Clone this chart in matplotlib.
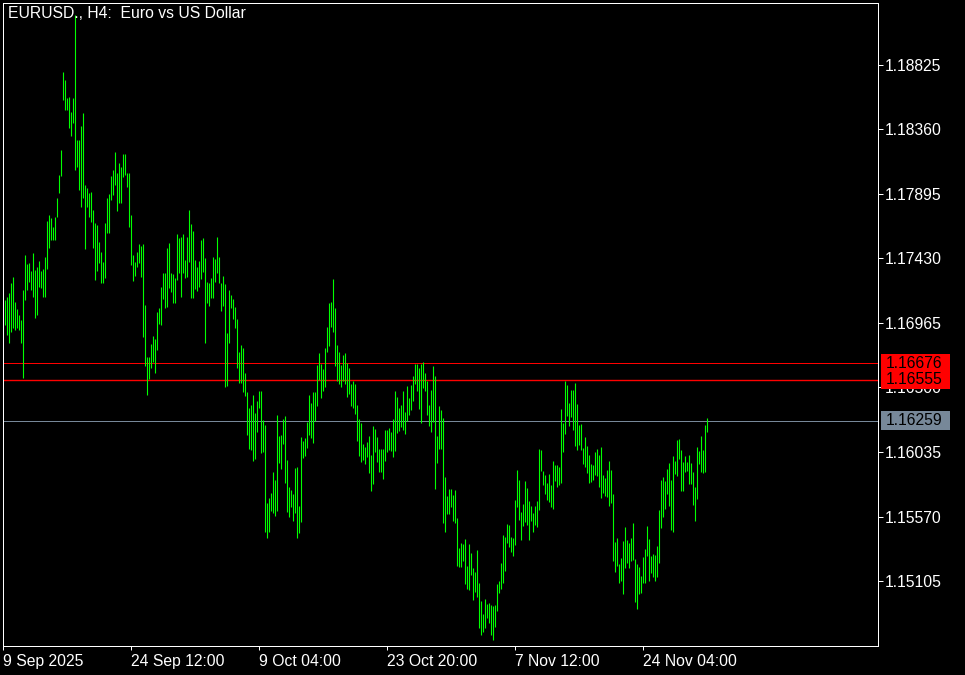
import matplotlib
matplotlib.use("Agg")
import matplotlib.pyplot as plt
import matplotlib.transforms as mtrans
from matplotlib.patches import Rectangle
import numpy as np

# H4 bars (high / low per bar)
highs = [
    1.17130, 1.17154, 1.17178, 1.17250, 1.17298, 1.17118, 1.17063, 1.17022, 1.16986, 1.17202,
    1.17454, 1.17389, 1.17394, 1.17341, 1.17466, 1.17346, 1.17370, 1.17413, 1.17341, 1.17351,
    1.17437, 1.17701, 1.17742, 1.17718, 1.17658, 1.17725, 1.17862, 1.18030, 1.18210, 1.18774,
    1.18714, 1.18582, 1.18589, 1.18486, 1.18582, 1.19182, 1.18282, 1.18282, 1.18383, 1.18474,
    1.17958, 1.17934, 1.17898, 1.17910, 1.17778, 1.17682, 1.17670, 1.17550, 1.17478, 1.17406,
    1.17682, 1.17862, 1.17893, 1.18023, 1.18066, 1.18193, 1.18042, 1.18114, 1.18090, 1.18181,
    1.18181, 1.18042, 1.18047, 1.17742, 1.17454, 1.17406, 1.17478, 1.17533, 1.17519, 1.17533,
    1.17094, 1.16722, 1.16717, 1.16813, 1.16871, 1.16847, 1.17046, 1.17070, 1.17226, 1.17327,
    1.17327, 1.17507, 1.17543, 1.17327, 1.17317, 1.17286, 1.17603, 1.17579, 1.17586, 1.17605,
    1.17418, 1.17586, 1.17778, 1.17677, 1.17627, 1.17418, 1.17370, 1.17411, 1.17562, 1.17579,
    1.17430, 1.17262, 1.17250, 1.17286, 1.17437, 1.17423, 1.17581, 1.17437, 1.17255, 1.17303,
    1.17245, 1.16890, 1.17202, 1.17166, 1.17137, 1.17082, 1.16993, 1.16753, 1.16806, 1.16787,
    1.16602, 1.16465, 1.16350, 1.16374, 1.16446, 1.16314, 1.16403, 1.16475, 1.16475, 1.16266,
    1.16230, 1.15666, 1.15702, 1.15743, 1.15894, 1.15834, 1.16302, 1.16151, 1.16158, 1.16273,
    1.16295, 1.15978, 1.15781, 1.15762, 1.15733, 1.15923, 1.15930, 1.15647, 1.16146, 1.16117,
    1.16134, 1.16254, 1.16446, 1.16391, 1.16468, 1.16468, 1.16662, 1.16746, 1.16669, 1.16633,
    1.16782, 1.16933, 1.17111, 1.17118, 1.17281, 1.17070, 1.16806, 1.16758, 1.16662, 1.16734,
    1.16746, 1.16674, 1.16643, 1.16523, 1.16549, 1.16525, 1.16374, 1.16273, 1.16247, 1.16093,
    1.16074, 1.16110, 1.16151, 1.16014, 1.16223, 1.16201, 1.16141, 1.16055, 1.16057, 1.16057,
    1.16194, 1.16194, 1.16206, 1.16182, 1.16271, 1.16475, 1.16429, 1.16350, 1.16374, 1.16475,
    1.16321, 1.16511, 1.16422, 1.16518, 1.16583, 1.16669, 1.16669, 1.16643, 1.16669, 1.16681,
    1.16607, 1.16547, 1.16374, 1.16482, 1.16655, 1.16583, 1.16151, 1.16367, 1.16338, 1.16278,
    1.15858, 1.15719, 1.15769, 1.15769, 1.15726, 1.15762, 1.15560, 1.15342, 1.15383, 1.15373,
    1.15409, 1.15215, 1.15373, 1.15311, 1.15198, 1.15169, 1.15330, 1.15095, 1.14965, 1.14869,
    1.14977, 1.14941, 1.14951, 1.14934, 1.14927, 1.14934, 1.15085, 1.15109, 1.15239, 1.15438,
    1.15426, 1.15517, 1.15510, 1.15426, 1.15419, 1.15690, 1.15906, 1.15834, 1.15606, 1.15661,
    1.15829, 1.15779, 1.15685, 1.15649, 1.15599, 1.15647, 1.15683, 1.16057, 1.16050, 1.15901,
    1.15870, 1.15810, 1.15877, 1.15798, 1.15971, 1.15942, 1.15942, 1.15925, 1.16345, 1.16247,
    1.16547, 1.16518, 1.16391, 1.16482, 1.16482, 1.16535, 1.16381, 1.16230, 1.16237, 1.16062,
    1.16141, 1.16079, 1.16014, 1.15949, 1.15942, 1.16038, 1.16055, 1.16014, 1.16069, 1.15870,
    1.15846, 1.15906, 1.15973, 1.15906, 1.15733, 1.15390, 1.15414, 1.15229, 1.15275, 1.15395,
    1.15498, 1.15402, 1.15383, 1.15419, 1.15522, 1.15265, 1.15229, 1.15210, 1.15143, 1.15282,
    1.15337, 1.15503, 1.15409, 1.15289, 1.15299, 1.15294, 1.15361, 1.15618, 1.15834, 1.15858,
    1.15827, 1.15913, 1.15959, 1.15834, 1.16009, 1.15973, 1.16122, 1.16129, 1.16050, 1.15966,
    1.16009, 1.15966, 1.16014, 1.15954, 1.15894, 1.15786, 1.16069, 1.16045, 1.16151, 1.16050,
    1.16230, 1.16278,
]
lows = [
    1.16950, 1.16878, 1.16818, 1.16902, 1.16926, 1.16914, 1.16926, 1.16914, 1.16823, 1.16566,
    1.17130, 1.17202, 1.17262, 1.17202, 1.17154, 1.16998, 1.17022, 1.17226, 1.17214, 1.17154,
    1.17154, 1.17351, 1.17502, 1.17562, 1.17562, 1.17562, 1.17730, 1.17898, 1.18025, 1.18570,
    1.18498, 1.18498, 1.18366, 1.18311, 1.18402, 1.18066, 1.18090, 1.17922, 1.17797, 1.17862,
    1.17495, 1.17802, 1.17730, 1.17689, 1.17502, 1.17274, 1.17341, 1.17394, 1.17250, 1.17255,
    1.17286, 1.17610, 1.17615, 1.17850, 1.17886, 1.17958, 1.17773, 1.17831, 1.17831, 1.18013,
    1.18030, 1.17941, 1.17653, 1.17382, 1.17269, 1.17303, 1.17370, 1.17394, 1.17298, 1.16866,
    1.16655, 1.16446, 1.16559, 1.16643, 1.16686, 1.16607, 1.16770, 1.16955, 1.16950, 1.17135,
    1.17070, 1.17082, 1.17214, 1.17190, 1.17111, 1.17111, 1.17274, 1.17322, 1.17154, 1.17322,
    1.17286, 1.17293, 1.17406, 1.17147, 1.17147, 1.17207, 1.17197, 1.17226, 1.17281, 1.17334,
    1.16823, 1.17111, 1.17089, 1.17142, 1.17142, 1.17262, 1.17322, 1.17255, 1.17053, 1.17087,
    1.16506, 1.16513, 1.16823, 1.17075, 1.16993, 1.16931, 1.16643, 1.16530, 1.16535, 1.16465,
    1.16441, 1.16156, 1.16060, 1.16050, 1.15973, 1.15985, 1.16182, 1.16350, 1.16026, 1.16038,
    1.15462, 1.15414, 1.15462, 1.15613, 1.15599, 1.15575, 1.15613, 1.15959, 1.15911, 1.16091,
    1.15810, 1.15606, 1.15565, 1.15642, 1.15541, 1.15599, 1.15414, 1.15455, 1.15534, 1.15990,
    1.16009, 1.16062, 1.16158, 1.16134, 1.16098, 1.16261, 1.16367, 1.16554, 1.16422, 1.16477,
    1.16501, 1.16758, 1.16799, 1.16938, 1.16902, 1.16655, 1.16549, 1.16525, 1.16506, 1.16549,
    1.16525, 1.16434, 1.16453, 1.16367, 1.16355, 1.16309, 1.16117, 1.16007, 1.15966, 1.15978,
    1.15949, 1.15997, 1.15887, 1.15757, 1.15805, 1.16038, 1.15966, 1.15894, 1.15894, 1.15841,
    1.15973, 1.16038, 1.16050, 1.16045, 1.16002, 1.16043, 1.16175, 1.16187, 1.16218, 1.16194,
    1.16165, 1.16259, 1.16302, 1.16338, 1.16405, 1.16523, 1.16477, 1.16343, 1.16247, 1.16494,
    1.16475, 1.16302, 1.16223, 1.16182, 1.16249, 1.15769, 1.15959, 1.16057, 1.16057, 1.15522,
    1.15462, 1.15589, 1.15589, 1.15642, 1.15541, 1.15527, 1.15215, 1.15210, 1.15210, 1.15253,
    1.15085, 1.15049, 1.15042, 1.15150, 1.14970, 1.15030, 1.14994, 1.14766, 1.14718, 1.14742,
    1.14771, 1.14838, 1.14807, 1.14718, 1.14682, 1.14778, 1.14893, 1.15023, 1.15047, 1.15095,
    1.15181, 1.15383, 1.15354, 1.15318, 1.15287, 1.15366, 1.15642, 1.15546, 1.15402, 1.15503,
    1.15529, 1.15510, 1.15402, 1.15541, 1.15462, 1.15510, 1.15493, 1.15618, 1.15901, 1.15798,
    1.15733, 1.15690, 1.15678, 1.15642, 1.15623, 1.15829, 1.15781, 1.15798, 1.15810, 1.16038,
    1.16163, 1.16297, 1.16223, 1.16290, 1.16194, 1.16079, 1.16050, 1.16086, 1.16050, 1.15949,
    1.15930, 1.15882, 1.15810, 1.15822, 1.15834, 1.15870, 1.15863, 1.15786, 1.15707, 1.15743,
    1.15719, 1.15714, 1.15649, 1.15671, 1.15253, 1.15174, 1.15215, 1.15095, 1.15109, 1.15011,
    1.15198, 1.15234, 1.15198, 1.15253, 1.15258, 1.14958, 1.14903, 1.15011, 1.15018, 1.15095,
    1.15090, 1.15289, 1.15109, 1.15167, 1.15138, 1.15109, 1.15138, 1.15239, 1.15491, 1.15570,
    1.15623, 1.15733, 1.15647, 1.15474, 1.15462, 1.15877, 1.15863, 1.15985, 1.15755, 1.15757,
    1.15894, 1.15901, 1.15805, 1.15805, 1.15654, 1.15541, 1.15697, 1.15949, 1.15894, 1.15887,
    1.15894, 1.16182,
]

price_ticks = [1.15105, 1.15570, 1.16035, 1.16500, 1.16965, 1.17430, 1.17895, 1.18360, 1.18825]
date_ticks = [-1, 63, 127, 191, 255, 319]
date_labels = ["9 Sep 2025", "24 Sep 12:00", "9 Oct 04:00", "23 Oct 20:00", "7 Nov 12:00", "24 Nov 04:00"]
red_levels = [1.16676, 1.16555]
bid_price = 1.16259
title = "EURUSD., H4:  Euro vs US Dollar"

plt.rcParams['font.family'] = ['Liberation Sans', 'DejaVu Sans']
FS = 11.3
PX = 72 / 100  # one pixel in points

fig = plt.figure(figsize=(9.65, 6.75), dpi=100, facecolor='black')
ax = fig.add_axes([3 / 965, 29 / 675, 875 / 965, 643 / 675])
ax.set_facecolor('black')

x = np.arange(len(highs))
ax.vlines(x, lows, highs, color='#00ff00', linewidth=1.1 * PX, zorder=3)

ax.axhline(red_levels[0], color='#ff0000', linewidth=PX, zorder=2)
ax.axhline(red_levels[1], color='#ff0000', linewidth=1.4 * PX, zorder=2)
ax.axhline(bid_price, color='#778899', linewidth=PX, zorder=2)

ax.set_xlim(-0.75, 436.75)
ax.set_ylim(1.14639, 1.19268)

for s in ax.spines.values():
    s.set_color('white')
    s.set_linewidth(PX)

ax.yaxis.tick_right()
ax.set_yticks(price_ticks)
ax.set_yticklabels(["%.5f" % p for p in price_ticks])
ax.set_xticks(date_ticks)
ax.set_xticklabels(date_labels, ha='left')
ax.tick_params(axis='y', colors='white', length=4.5 * PX, width=PX, pad=2 * PX,
               labelsize=FS, direction='out')
ax.tick_params(axis='x', colors='white', length=4 * PX, width=PX, pad=4 * PX,
               labelsize=FS, direction='out')
for lbl in ax.get_xticklabels():
    lbl.set_horizontalalignment('left')

# price labels on the right scale
trans = mtrans.blended_transform_factory(ax.transAxes, ax.transData)
px_price = (1.19268 - 1.14639) / 643.0
box_x = (881 - 3) / 875.0
box_w = 69 / 875.0
for p, col, h in [(red_levels[0], '#ff0000', 18), (red_levels[1], '#ff0000', 18),
                  (bid_price, '#778899', 19)]:
    r = Rectangle((box_x, p - h / 2 * px_price), box_w, h * px_price, transform=trans,
                  facecolor=col, edgecolor='none', clip_on=False, zorder=10)
    ax.add_artist(r)
for p in red_levels + [bid_price]:
    ax.text(box_x + 5 / 875.0, p, "%.5f" % p, transform=trans, color='black', fontsize=FS,
            va='center', ha='left', clip_on=False, zorder=11)

fig.text(8 / 965, 1 - 6 / 675, title, color='white', fontsize=FS, va='top', ha='left')

fig.savefig('out.png', dpi=100, facecolor='black')
